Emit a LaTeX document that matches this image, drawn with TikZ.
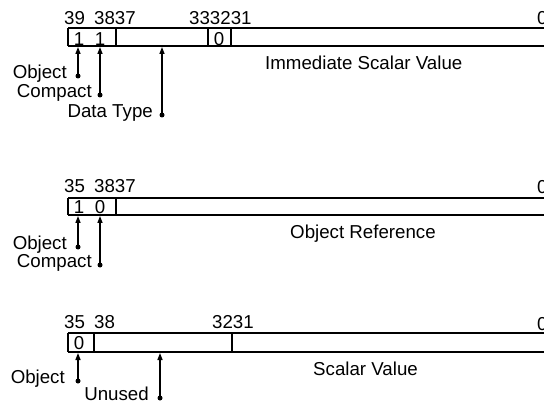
\documentclass[tikz,border=0pt]{standalone}
\usepackage{fontspec}
\setmainfont{Liberation Sans}
\usetikzlibrary{arrows.meta}
\begin{document}
\begin{tikzpicture}[x=1pt,y=-1pt,
  lbl/.style={inner sep=0pt,font=\fontsize{18.7}{21}\selectfont},
  fieldline/.style={line width=1.3pt},
  ptr/.style={line width=1.3pt,-{Triangle[length=7pt,width=5pt]}},
  dotnode/.style={circle,fill,inner sep=0pt,minimum size=5pt}]
\useasboundingbox (0,0) rectangle (544,409);
% ---------- word 1 ----------
\draw[fieldline] (68,28) -- (560,28) (68,46) -- (560,46)
  (68,28) -- (68,46) (116,28) -- (116,46) (208,28) -- (208,46) (231,28) -- (231,46);
\node[lbl,anchor=base west] (a39) at (64,25) {39};
\node[lbl,anchor=base west] (a3837) at (94,25) {3837};
\node[lbl,anchor=base west] (a333231) at (189,25) {333231};
\node[lbl,anchor=base west] (a0) at (537,25) {0};
\node[lbl] (ab1) at (79,39) {1};
\node[lbl] (ab2) at (100,39) {1};
\node[lbl] (ab3) at (219,39) {0};
\coordinate (at1) at (78,47);
\coordinate (at2) at (100,47);
\coordinate (at3) at (162,47);
\node[dotnode] (ad1) at (78,76) {};
\node[dotnode] (ad2) at (100,95) {};
\node[dotnode] (ad3) at (162,115) {};
\draw[ptr] (ad1.center) -- (at1);
\draw[ptr] (ad2.center) -- (at2);
\draw[ptr] (ad3.center) -- (at3);
\node[lbl,anchor=mid east] (al1) at (67,76) {Object};
\node[lbl,anchor=mid east] (al2) at (92,95) {Compact};
\node[lbl,anchor=mid east] (al3) at (153,115) {Data Type};
\node[lbl,anchor=base west] (at) at (265,70) {Immediate Scalar Value};
% ---------- word 2 ----------
\draw[fieldline] (68,198) -- (560,198) (68,215) -- (560,215)
  (68,198) -- (68,215) (116,198) -- (116,215);
\node[lbl,anchor=base west] (b35) at (64,193) {35};
\node[lbl,anchor=base west] (b3837) at (94,193) {3837};
\node[lbl,anchor=base west] (b0) at (537,194) {0};
\node[lbl] (bb1) at (79,207) {1};
\node[lbl] (bb2) at (100,207) {0};
\coordinate (bt1) at (78,216);
\coordinate (bt2) at (100,216);
\node[dotnode] (bd1) at (78,247) {};
\node[dotnode] (bd2) at (100,265) {};
\draw[ptr] (bd1.center) -- (bt1);
\draw[ptr] (bd2.center) -- (bt2);
\node[lbl,anchor=mid east] (bl1) at (67,247) {Object};
\node[lbl,anchor=mid east] (bl2) at (92,265) {Compact};
\node[lbl,anchor=base west] (bt) at (290,238) {Object Reference};
% ---------- word 3 ----------
\draw[fieldline] (68,333) -- (560,333) (68,352) -- (560,352)
  (68,333) -- (68,352) (94,333) -- (94,352) (232,333) -- (232,352);
\node[lbl,anchor=base west] (c35) at (64,328) {35};
\node[lbl,anchor=base west] (c38) at (94,328) {38};
\node[lbl,anchor=base west] (c3231) at (212,328) {3231};
\node[lbl,anchor=base west] (c0) at (537,330) {0};
\node[lbl] (cb1) at (79,343) {0};
\coordinate (ct1) at (78,353);
\coordinate (ct2) at (160,353);
\node[dotnode] (cd1) at (78,381) {};
\node[dotnode] (cd2) at (160,398) {};
\draw[ptr] (cd1.center) -- (ct1);
\draw[ptr] (cd2.center) -- (ct2);
\node[lbl,anchor=mid east] (cl1) at (65,381) {Object};
\node[lbl,anchor=mid east] (cl2) at (149,398) {Unused};
\node[lbl,anchor=base west] (ct) at (313,375) {Scalar Value};
\end{tikzpicture}
\end{document}
